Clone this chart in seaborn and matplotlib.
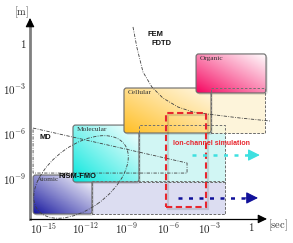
import numpy as np
import matplotlib
matplotlib.use("Agg")
import matplotlib.pyplot as plt
import seaborn as sns
from matplotlib.patches import FancyBboxPatch, Rectangle, Polygon, Ellipse
from matplotlib.colors import to_rgb

sns.set_theme(style="white")
plt.rcParams["mathtext.fontset"] = "cm"
plt.rcParams["font.family"] = ["DejaVu Sans"]

# ---------------- data (log10 units: x = time [s], y = length [m]) ----------------
scale_names = ["Atomic", "Molecular", "Cellular", "Organic"]
time_lo = [-15.76, -12.88, -9.20, -4.00]
time_hi = [-11.51, -8.12, -2.92, 1.05]
len_lo = [-11.40, -9.27, -6.00, -3.33]
len_hi = [-8.80, -5.47, -3.00, -0.73]
ext_time_hi = [-1.91, -1.91, 0.97, None]
ext_len_lo = [-11.40, -9.27, -6.00, None]
ext_len_hi = [-9.20, -5.47, -3.00, None]
box_colors = ["#12129c", "#00e6dc", "#ffbe22", "#f5005c"]
box_light = ["#ffffff", "#ffffff", "#fff8e6", "#ffffff"]
ext_colors = ["#d6d8ef", "#c9f5f3", "#fdf3d4", None]

# method regions
md_x = [-15.76, -4.65, -4.65, -15.76]
md_y = [-5.67, -8.00, -8.67, -8.67]
fem_x = [-8.55, -8.26, -7.83, -7.19, -6.39, -5.30, -4.22, -3.21, -0.83, 1.33]
fem_y = [1.07, -0.33, -1.93, -2.93, -3.67, -4.27, -4.60, -4.73, -5.00, -5.20]
rism_center = (-12.30, -8.93)
rism_size = (7.64, 4.30)
rism_angle = 33

ion_x = (-6.17, -3.28)
ion_y = (-10.93, -4.67)

arrow_start_x = [-4.3, -5.3]
arrow_end_x = [0.6, 0.47]
arrow_y = [-7.47, -10.33]
arrow_colors = ["#3ee0e0", "#10109a"]

xticks = [-15, -12, -9, -6, -3, 0]
xticklabels = [r"$10^{-15}$", r"$10^{-12}$", r"$10^{-9}$", r"$10^{-6}$", r"$10^{-3}$", r"$1$"]
yticks = [0, -3, -6, -9]
yticklabels = [r"$1$", r"$10^{-3}$", r"$10^{-6}$", r"$10^{-9}$"]

x_axis_at = -11.73
y_axis_at = -15.98
x_axis_end = 1.12
y_axis_end = 1.67

# ---------------- figure ----------------
fig = plt.figure(figsize=(2.93, 2.43), dpi=100)
ax = fig.add_axes([0, 0, 1, 1])
XL = (-18.146, 2.995)
YL = (-13.333, 2.867)


def grad_img(c0, c1, n=64):
    u = np.linspace(0, 1, n)
    U, V = np.meshgrid(u, u)
    t = np.clip((U + V) / 2.0, 0, 1) ** 0.9
    a = np.array(to_rgb(c0))
    b = np.array(to_rgb(c1))
    return a[None, None, :] * (1 - t[..., None]) + b[None, None, :] * t[..., None]


dash_ext = (0, (2.5, 1.8))
for i, name in enumerate(scale_names):
    z = 2 + i * 2
    # extension (dashed) box
    if ext_time_hi[i] is not None:
        r = Rectangle((time_hi[i], ext_len_lo[i]), ext_time_hi[i] - time_hi[i],
                      ext_len_hi[i] - ext_len_lo[i], facecolor=ext_colors[i],
                      edgecolor="#707070", lw=0.7, ls=dash_ext, alpha=0.85, zorder=z)
        ax.add_patch(r)
    # shadow
    sh = FancyBboxPatch((time_lo[i] + 0.12, len_lo[i] - 0.12), time_hi[i] - time_lo[i],
                        len_hi[i] - len_lo[i], boxstyle="round,pad=0,rounding_size=0.18",
                        facecolor="#000000", edgecolor="none", alpha=0.12, zorder=z + 0.3)
    ax.add_patch(sh)
    p = FancyBboxPatch((time_lo[i], len_lo[i]), time_hi[i] - time_lo[i],
                       len_hi[i] - len_lo[i], boxstyle="round,pad=0,rounding_size=0.18",
                       facecolor="none", edgecolor="#6a6a6a", lw=0.8, zorder=z + 0.6)
    ax.add_patch(p)
    im = ax.imshow(grad_img(box_colors[i], box_light[i]),
                   extent=(time_lo[i], time_hi[i], len_lo[i], len_hi[i]),
                   origin="lower", aspect="auto", interpolation="bilinear", zorder=z + 0.5)
    im.set_clip_path(p)
    ax.text(time_lo[i] + 0.3, len_hi[i] - 0.15, name, ha="left", va="top",
            fontsize=5.3, family="Liberation Serif", color="#333333", zorder=z + 0.7)

# dashed outlines of extensions on top
for i in range(3):
    r = Rectangle((time_hi[i], ext_len_lo[i]), ext_time_hi[i] - time_hi[i],
                  ext_len_hi[i] - ext_len_lo[i], facecolor="none",
                  edgecolor="#707070", lw=0.7, ls=dash_ext, zorder=11)
    ax.add_patch(r)

dashdot = (0, (4, 1.6, 1, 1.6))
# MD region
ax.add_patch(Polygon(np.column_stack([md_x, md_y]), closed=True, fill=False,
                     edgecolor="#404040", lw=0.6, ls=dashdot, zorder=12))
# FEM/FDTD curve
ax.plot(fem_x, fem_y, color="#404040", lw=0.6, ls=dashdot, zorder=12)
# RISM-FMO ellipse
ax.add_patch(Ellipse(rism_center, rism_size[0], rism_size[1], angle=rism_angle,
                     fill=False, edgecolor="#404040", lw=0.6, ls=dashdot, zorder=12))

# ion channel box
ax.add_patch(Rectangle((ion_x[0] + 0.15, ion_y[0] - 0.15), ion_x[1] - ion_x[0],
                       ion_y[1] - ion_y[0], fill=False, edgecolor="#000000",
                       alpha=0.12, lw=1.6, zorder=12.5))
ax.add_patch(Rectangle((ion_x[0], ion_y[0]), ion_x[1] - ion_x[0], ion_y[1] - ion_y[0],
                       fill=False, edgecolor="#e8262e", lw=1.5, ls=(0, (3, 1.7)), zorder=13))
ax.text(-5.66, -6.67, "Ion-channel simulation", color="#e8262e", fontsize=5.0,
        family="Liberation Sans", weight="bold", ha="left", va="center", zorder=14)

# dotted arrows
for xs, xe, y, c in zip(arrow_start_x, arrow_end_x, arrow_y, arrow_colors):
    ax.plot([xs, xe - 0.7], [y, y], color=c, lw=1.8, ls=(0, (1.6, 2.6)),
            solid_capstyle="butt", zorder=14)
    ax.annotate("", xy=(xe, y), xytext=(xe - 0.9, y),
                arrowprops=dict(arrowstyle="-|>,head_length=0.6,head_width=0.3",
                                color=c, lw=0.8, shrinkA=0, shrinkB=0), zorder=14)

# labels of methods
lab_kw = dict(fontsize=5.4, family="Liberation Sans", weight="bold", color="#111111",
              zorder=15)
ax.text(-15.30, -6.27, "MD", ha="left", va="center", **lab_kw)
ax.text(-13.90, -8.93, "RISM-FMO", ha="left", va="center", **lab_kw)
ax.text(-7.53, 0.60, "FEM", ha="left", va="center", **lab_kw)
ax.text(-7.24, 0.00, "FDTD", ha="left", va="center", **lab_kw)

# ---------------- axes ----------------
ax.set_xlim(*XL)
ax.set_ylim(*YL)
for s in ["top", "right"]:
    ax.spines[s].set_visible(False)
ax.spines["left"].set_position(("data", y_axis_at))
ax.spines["bottom"].set_position(("data", x_axis_at))
ax.spines["left"].set_bounds(x_axis_at, y_axis_end - 0.3)
ax.spines["bottom"].set_bounds(y_axis_at, x_axis_end - 0.3)
ax.spines["left"].set_color("#808080")
ax.spines["left"].set_linewidth(2.0)
ax.spines["bottom"].set_color("#000000")
ax.spines["bottom"].set_linewidth(0.9)
ax.spines["left"].set_zorder(20)
ax.spines["bottom"].set_zorder(20)
ax.set_xticks(xticks)
ax.set_xticklabels(xticklabels)
ax.set_yticks(yticks)
ax.set_yticklabels(yticklabels)
ax.tick_params(axis="both", length=0, labelsize=8, colors="#222222")
ax.tick_params(axis="x", pad=1.5)
ax.tick_params(axis="y", pad=2.5)
ax.grid(False)
ax.set_facecolor("white")

ax.annotate("", xy=(y_axis_at, y_axis_end), xytext=(y_axis_at, y_axis_end - 0.5),
            arrowprops=dict(arrowstyle="-|>,head_length=0.45,head_width=0.22",
                            color="black", lw=0.8, shrinkA=0, shrinkB=0), zorder=21)
ax.annotate("", xy=(x_axis_end, x_axis_at), xytext=(x_axis_end - 0.5, x_axis_at),
            arrowprops=dict(arrowstyle="-|>,head_length=0.45,head_width=0.22",
                            color="black", lw=0.8, shrinkA=0, shrinkB=0), zorder=21)
ax.text(-16.56, 2.07, r"$[\mathrm{m}]$", fontsize=7.5, ha="center", va="center",
        color="#333333")
ax.text(1.91, -12.13, r"$[\mathrm{sec}]$", fontsize=7.5, ha="center", va="center",
        color="#333333")

fig.savefig("out.png", dpi=100)
